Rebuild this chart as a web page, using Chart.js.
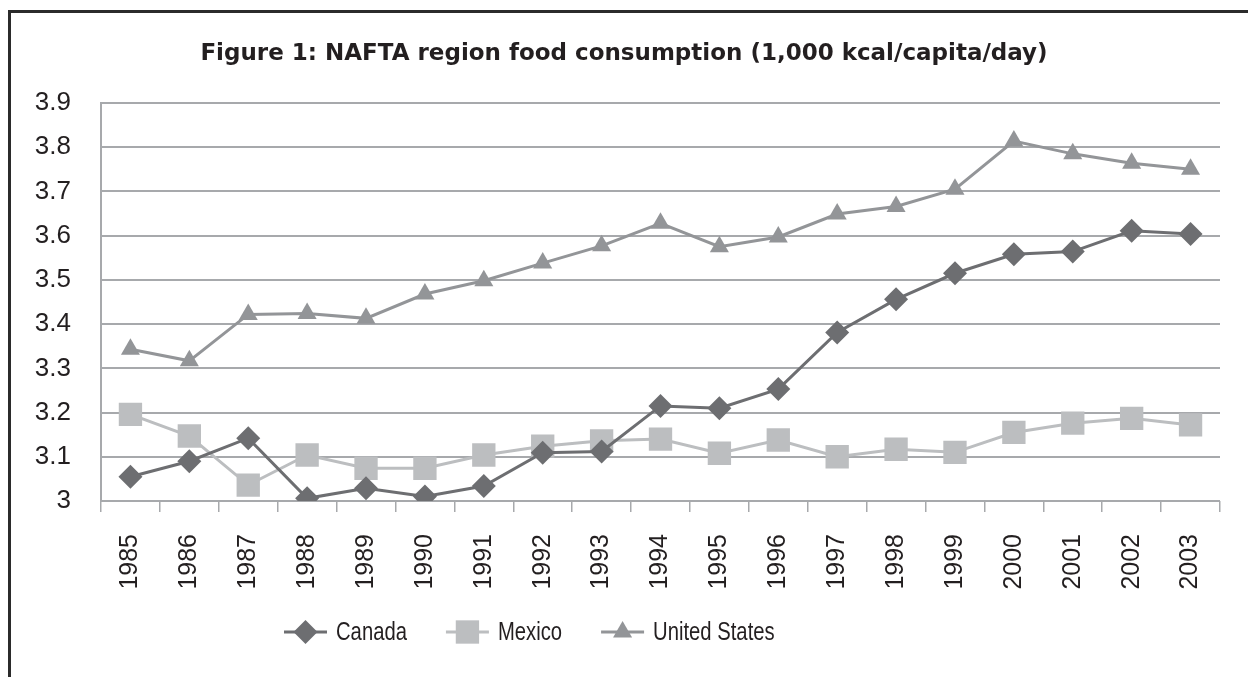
<!DOCTYPE html>
<html><head><meta charset="utf-8">
<script src="https://cdn.jsdelivr.net/npm/chart.js@4/dist/chart.umd.min.js"></script>
<style>html,body{margin:0;padding:0;background:#fff;overflow:hidden}#wrap{position:absolute;left:0;top:0;width:1248px;height:677px}</style>
</head><body><div id="wrap"><canvas id="c"></canvas></div>
<script>
const years = ['1985','1986','1987','1988','1989','1990','1991','1992','1993','1994','1995','1996','1997','1998','1999','2000','2001','2002','2003'];
const canada = [3.055,3.090,3.142,3.006,3.029,3.010,3.034,3.109,3.112,3.215,3.210,3.253,3.381,3.456,3.515,3.558,3.564,3.611,3.604];
const mexico = [3.196,3.147,3.036,3.104,3.074,3.074,3.104,3.124,3.136,3.140,3.108,3.138,3.100,3.117,3.110,3.155,3.176,3.187,3.172];
const unitedStates = [3.343,3.317,3.422,3.424,3.413,3.468,3.498,3.538,3.577,3.628,3.575,3.597,3.649,3.666,3.705,3.814,3.785,3.764,3.750];
const yTickLabels = ['3','3.1','3.2','3.3','3.4','3.5','3.6','3.7','3.8','3.9'];
const seriesNames = ['Canada','Mexico','United States'];
const titleText = 'Figure 1: NAFTA region food consumption (1,000 kcal/capita/day)';

const FONT = "'Liberation Sans', Arial, Helvetica, sans-serif";
const TITLE_FONT = "'DejaVu Sans', 'Liberation Sans', Arial, sans-serif";
const TEXT = '#231f20';
const GRID = '#a7a9ac';
const colors = ['#6d6e71', '#bcbec0', '#939598'];
const styles = ['rectRot', 'rect', 'triangle'];
const radii = [12, 16.5, 11];

const framePlugin = {
  id: 'frame',
  beforeDraw(chart) {
    const ctx = chart.ctx;
    ctx.save();
    ctx.fillStyle = '#2b2b2b';
    ctx.fillRect(8, 10, 3, 667);
    ctx.fillRect(8, 10, 1240, 3);
    ctx.restore();
  },
  afterDraw(chart) {
    const ctx = chart.ctx;
    ctx.save();
    // title
    ctx.fillStyle = TEXT;
    ctx.font = "bold 23px " + TITLE_FONT;
    ctx.textAlign = 'center';
    ctx.textBaseline = 'middle';
    ctx.fillText(titleText, 624, 54);
    // legend
    ctx.font = "25px " + FONT;
    ctx.textAlign = 'left';
    const sx = 0.81;
    let x = 284;
    const y = 632;
    chart.data.datasets.forEach((ds, i) => {
      ctx.strokeStyle = ds.borderColor;
      ctx.lineWidth = 3;
      ctx.beginPath();
      ctx.moveTo(x, y);
      ctx.lineTo(x + 43, y);
      ctx.stroke();
      ctx.fillStyle = ds.borderColor;
      Chart.helpers.drawPoint(ctx, {pointStyle: ds.pointStyle, radius: ds.pointRadius, borderWidth: 0, rotation: 0}, x + 21.5, y);
      ctx.fillStyle = TEXT;
      const tx = x + 52;
      ctx.save();
      ctx.translate(tx, y + 1);
      ctx.scale(sx, 1);
      ctx.fillText(ds.label, 0, 0);
      ctx.restore();
      x = tx + ctx.measureText(ds.label).width * sx + 39;
    });
    ctx.restore();
  }
};

const datasets = [canada, mexico, unitedStates].map((vals, i) => ({
  label: seriesNames[i],
  data: vals,
  borderColor: colors[i],
  backgroundColor: colors[i],
  pointBackgroundColor: colors[i],
  pointBorderColor: colors[i],
  pointBorderWidth: 0,
  pointStyle: styles[i],
  pointRadius: radii[i],
  borderWidth: 3,
  tension: 0,
  fill: false
}));

new Chart(document.getElementById('c'), {
  type: 'line',
  data: { labels: years, datasets },
  options: {
    responsive: true,
    maintainAspectRatio: false,
    animation: false,
    events: [],
    layout: { padding: { left: 0, right: 28, top: 103, bottom: 76 } },
    plugins: { legend: { display: false }, title: { display: false }, tooltip: { enabled: false } },
    scales: {
      x: {
        type: 'category',
        offset: true,
        grid: { offset: true, drawOnChartArea: false, tickLength: 11, color: GRID, lineWidth: 1.5 },
        border: { display: false },
        ticks: { minRotation: 90, maxRotation: 90, autoSkip: false, padding: 22, color: TEXT, font: { size: 25, family: FONT } },
        afterFit(s) { s.height = 100; }
      },
      y: {
        min: 3, max: 3.9,
        grid: { color: GRID, lineWidth: 2, drawTicks: false },
        border: { display: true, color: GRID, width: 2 },
        ticks: { stepSize: 0.1, padding: 30, color: TEXT, font: { size: 26, family: FONT },
          callback: (v, idx) => yTickLabels[idx] },
        afterFit(s) { s.width = 101; }
      }
    }
  },
  plugins: [framePlugin]
});
</script></body></html>
